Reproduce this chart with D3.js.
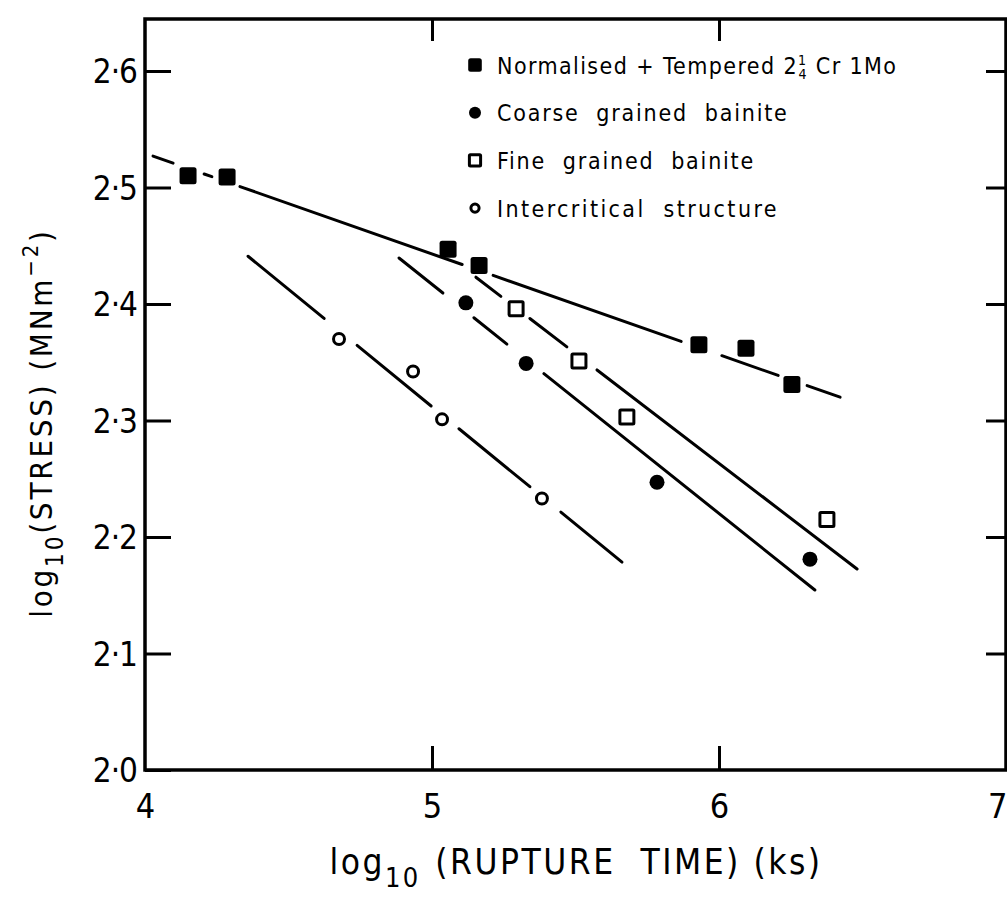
<!DOCTYPE html>
<html><head><meta charset="utf-8">
<script src="https://cdn.jsdelivr.net/npm/d3@7"></script>
<style>
body{margin:0;background:#fff;}
svg text{font-family:"DejaVu Sans Condensed","Liberation Sans Narrow","DejaVu Sans",sans-serif;fill:#000;}
</style></head><body>
<svg id="c" width="1007" height="899"></svg>
<script>
// ---------- data ----------
const xTickValues = [4, 5, 6, 7];
const yTickValues = [2.0, 2.1, 2.2, 2.3, 2.4, 2.5, 2.6];
const yTickLabels = ["2·0", "2·1", "2·2", "2·3", "2·4", "2·5", "2·6"];
const seriesKeys = ["nt", "coarse", "fine", "inter"];
const seriesLabels = ["Normalised + Tempered 2¼ Cr 1Mo", "Coarse  grained  bainite", "Fine  grained  bainite", "Intercritical  structure"];

// Normalised + Tempered 2 1/4 Cr 1Mo (filled squares)
const ntX = [4.150, 4.286, 5.056, 5.164, 5.930, 6.094, 6.254];
const ntY = [2.510, 2.509, 2.447, 2.433, 2.365, 2.362, 2.331];
// Coarse grained bainite (filled circles)
const coarseX = [5.118, 5.328, 5.784, 6.317];
const coarseY = [2.401, 2.349, 2.247, 2.181];
// Fine grained bainite (open squares)
const fineX = [5.293, 5.512, 5.679, 6.376];
const fineY = [2.396, 2.351, 2.303, 2.215];
// Intercritical structure (open circles)
const interX = [4.676, 4.934, 5.035, 5.383];
const interY = [2.370, 2.342, 2.301, 2.233];

// fitted lines: two end points [x, y]
const ntLine = [[4.028, 2.527], [6.422, 2.320]];
const coarseLine = [[4.885, 2.4395], [6.334, 2.1545]];
const fineLine = [[5.153, 2.423], [6.481, 2.1725]];
const interLine = [[4.359, 2.441], [5.662, 2.1785]];
// drawn pieces of each fitted line (x ranges), broken round the markers
const ntDashes = [[4.028, 4.098], [4.206, 4.233], [4.331, 5.105], [5.213, 5.868], [6.010, 6.206], [6.307, 6.422]];
const coarseDashes = [[4.885, 5.038], [5.146, 5.261], [5.390, 6.334]];
const fineDashes = [[5.153, 5.240], [5.341, 5.470], [5.575, 6.481]];
const interDashes = [[4.359, 4.624], [4.739, 4.997], [5.094, 5.341], [5.449, 5.662]];

// ---------- chart ----------
const svg = d3.select("#c");
const frameTop = 19;
const x = d3.scaleLinear().domain([4, 7]).range([145, 1006]);
const y = d3.scaleLinear().domain([2.0, 2.6]).range([770, 71]);

const g = svg.append("g");

// frame
g.append("rect").attr("x", x(4)).attr("y", frameTop)
  .attr("width", x(7) - x(4)).attr("height", y(2.0) - frameTop)
  .attr("fill", "none").attr("stroke", "#000").attr("stroke-width", 3.5);

// left axis
const yAxis = d3.axisLeft(y).tickValues(yTickValues)
  .tickFormat((d, i) => yTickLabels[i]).tickSize(-26).tickSizeOuter(0).tickPadding(8);
const ya = g.append("g").attr("transform", `translate(${x(4)},0)`).call(yAxis);
ya.select(".domain").remove();
ya.selectAll(".tick line").attr("stroke", "#000").attr("stroke-width", 3);
ya.selectAll(".tick text").attr("font-size", 33).attr("dy", "0.36em").attr("letter-spacing", -1);

// right axis (ticks only)
const yAxisR = d3.axisRight(y).tickValues(yTickValues.slice(1)).tickFormat("").tickSize(-20).tickSizeOuter(0);
const yr = g.append("g").attr("transform", `translate(${x(7)},0)`).call(yAxisR);
yr.select(".domain").remove();
yr.selectAll(".tick line").attr("stroke", "#000").attr("stroke-width", 3);

// bottom axis
const xAxis = d3.axisBottom(x).tickValues(xTickValues).tickFormat(d3.format("d"))
  .tickSize(-24).tickSizeOuter(0).tickPadding(24);
const xa = g.append("g").attr("transform", `translate(0,${y(2.0)})`).call(xAxis);
xa.select(".domain").remove();
xa.selectAll(".tick line").attr("stroke", "#000").attr("stroke-width", 3)
  .attr("display", d => (d === 4 || d === 7) ? "none" : null);
xa.selectAll(".tick text").attr("font-size", 34)
  .attr("text-anchor", d => d === 7 ? "end" : "middle")
  .attr("x", d => d === 7 ? 1 : 0);

// top axis (ticks only)
const xAxisT = d3.axisTop(x).tickValues([5, 6]).tickFormat("").tickSize(-22).tickSizeOuter(0);
const xt = g.append("g").attr("transform", `translate(0,${frameTop})`).call(xAxisT);
xt.select(".domain").remove();
xt.selectAll(".tick line").attr("stroke", "#000").attr("stroke-width", 3);

// axis titles
const xTitle = svg.append("text").attr("x", 576).attr("y", 874)
  .attr("text-anchor", "middle").attr("font-size", 35).attr("letter-spacing", 2.5)
  .style("white-space", "pre");
xTitle.append("tspan").text("log");
xTitle.append("tspan").attr("font-size", 27).attr("dy", 13).text("10");
xTitle.append("tspan").attr("dy", -13).attr("dx", 2).text(" (RUPTURE  TIME) (ks)");

const yTitle = svg.append("text").attr("transform", "translate(52,423) rotate(-90)")
  .attr("text-anchor", "middle").attr("font-size", 31).attr("letter-spacing", 2.8)
  .style("white-space", "pre");
yTitle.append("tspan").text("log");
yTitle.append("tspan").attr("font-size", 24).attr("dy", 11).text("10");
yTitle.append("tspan").attr("dy", -11).text("(STRESS) (MNm");
yTitle.append("tspan").attr("font-size", 22).attr("dy", -14).text("−2");
yTitle.append("tspan").attr("dy", 14).text(")");

// fitted lines
const lineSets = [
  [ntLine, ntDashes], [coarseLine, coarseDashes], [fineLine, fineDashes], [interLine, interDashes]
];
lineSets.forEach(([ends, dashes]) => {
  const [p0, p1] = ends;
  const f = xv => p0[1] + (p1[1] - p0[1]) * (xv - p0[0]) / (p1[0] - p0[0]);
  g.selectAll(null).data(dashes).enter().append("line")
    .attr("x1", d => x(d[0])).attr("y1", d => y(f(d[0])))
    .attr("x2", d => x(d[1])).attr("y2", d => y(f(d[1])))
    .attr("stroke", "#000").attr("stroke-width", 3).attr("stroke-linecap", "round");
});

// markers
const styles = {
  nt: {type: "sq", size: 17, fill: true},
  coarse: {type: "ci", size: 15, fill: true},
  fine: {type: "sq", size: 14, fill: false},
  inter: {type: "ci", size: 14, fill: false}
};
function drawMarker(sel, st, cx, cy, scale) {
  const s = st.size * (scale || 1);
  if (st.type === "sq") {
    sel.append("rect").attr("x", cx - s / 2).attr("y", cy - s / 2).attr("width", s).attr("height", s)
      .attr("rx", st.fill ? 2.5 : 1)
      .attr("fill", st.fill ? "#000" : "#fff").attr("stroke", "#000").attr("stroke-width", st.fill ? 0 : 3);
  } else {
    sel.append("circle").attr("cx", cx).attr("cy", cy).attr("r", st.fill ? s / 2 : s / 2 - 1.5)
      .attr("fill", st.fill ? "#000" : "#fff").attr("stroke", "#000").attr("stroke-width", st.fill ? 0 : 3);
  }
}
const seriesData = {
  nt: d3.zip(ntX, ntY), coarse: d3.zip(coarseX, coarseY),
  fine: d3.zip(fineX, fineY), inter: d3.zip(interX, interY)
};
const mg = g.append("g");
seriesKeys.forEach(k => {
  seriesData[k].forEach(([xv, yv]) => drawMarker(mg, styles[k], x(xv), y(yv)));
});

// legend
const lg = svg.append("g");
const legendSpacing = {nt: 1.4, coarse: 1.8, fine: 1.8, inter: 2.4};
seriesKeys.forEach((k, i) => {
  const cy = 65 + i * 47.7;
  drawMarker(lg, styles[k], 475, cy, 0.8);
  const t = lg.append("text").attr("x", 497).attr("y", cy + 8.5).attr("font-size", 23)
    .attr("letter-spacing", legendSpacing[k]).style("white-space", "pre");
  if (k === "nt") {
    t.append("tspan").text("Normalised + Tempered 2");
    t.append("tspan").attr("font-size", 14).attr("dy", -9).text("1");
    t.append("tspan").attr("font-size", 14).attr("dx", -9).attr("dy", 14).text("4");
    t.append("tspan").attr("dy", -5).text(" Cr 1Mo");
  } else {
    t.text(seriesLabels[i]);
  }
});
</script>
</body></html>
